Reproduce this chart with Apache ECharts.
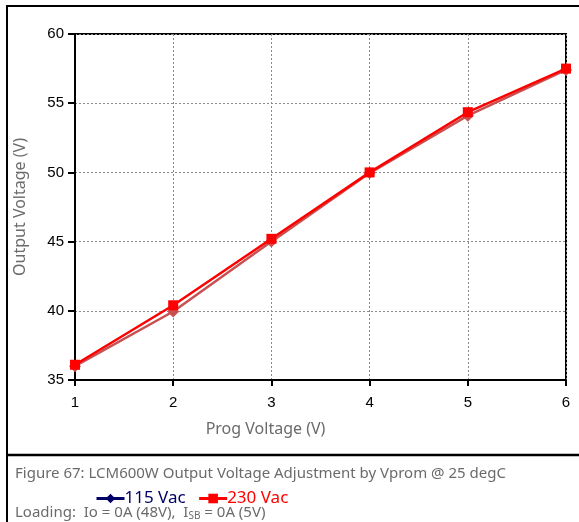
<!DOCTYPE html>
<html>
<head>
<meta charset="utf-8">
<script src="https://cdn.jsdelivr.net/npm/echarts@6/dist/echarts.min.js"></script>
<style>
  html, body { margin: 0; padding: 0; background: #fff; }
  #chart { width: 579px; height: 522px; }
</style>
</head>
<body>
<div id="chart"></div>
<script>
// Programming voltage (V) on the x axis
const progVoltage = [1, 2, 3, 4, 5, 6];
// Output voltage (V) for each input line voltage
const out115 = [36.0, 39.95, 45.0, 49.95, 54.1, 57.4];
const out230 = [36.1, 40.4, 45.2, 50.0, 54.35, 57.5];
const seriesNames = ['115 Vac', '230 Vac'];
const yTicks = [35, 40, 45, 50, 55, 60];

const pairs = (xs, ys) => xs.map((x, i) => [x, ys[i]]);

const chart = echarts.init(document.getElementById('chart'), null, { renderer: 'canvas' });

const thinFont = '"Noto Sans", "DejaVu Sans", sans-serif';
const tickFont = '"Liberation Sans", Arial, sans-serif';
const grey = '#6b6b6b';

chart.setOption({
  backgroundColor: '#ffffff',
  animation: false,
  grid: {
    left: 75, top: 34, right: 13, bottom: 142,
    show: true, borderColor: '#000', borderWidth: 2
  },
  xAxis: {
    type: 'value',
    min: 1, max: 6, interval: 1,
    name: 'Prog Voltage (V)',
    nameLocation: 'middle',
    nameGap: 41,
    nameTextStyle: { fontFamily: thinFont, fontSize: 16, color: grey, padding: [0, 110, 0, 0] },
    axisLine: { lineStyle: { color: '#000', width: 2 } },
    axisTick: { show: true, inside: false, length: 6, lineStyle: { color: '#000', width: 2 } },
    axisLabel: { fontFamily: tickFont, fontSize: 15, color: '#000', margin: 15 },
    splitLine: { show: true, lineStyle: { color: '#8a8a8a', type: [2, 2], width: 1 } }
  },
  yAxis: {
    type: 'value',
    min: yTicks[0], max: yTicks[yTicks.length - 1], interval: 5,
    name: 'Output Voltage (V)',
    nameLocation: 'middle',
    nameGap: 47,
    nameTextStyle: { fontFamily: thinFont, fontSize: 16, color: grey },
    axisLine: { show: true, lineStyle: { color: '#000', width: 2 } },
    axisTick: { show: true, inside: false, length: 7, lineStyle: { color: '#000', width: 2 } },
    axisLabel: { fontFamily: tickFont, fontSize: 15, color: '#000', margin: 11 },
    splitLine: { show: true, lineStyle: { color: '#8a8a8a', type: [2, 2], width: 1 } }
  },
  legend: {
    left: 90, top: 485,
    itemWidth: 28, itemHeight: 12, itemGap: 12,
    data: [
      {
        name: seriesNames[0],
        itemStyle: { color: '#000066' }, lineStyle: { color: '#000066', width: 3 },
        textStyle: { color: '#000066' }
      },
      {
        name: seriesNames[1],
        itemStyle: { color: '#ff0000' }, lineStyle: { color: '#ff0000', width: 3 },
        textStyle: { color: '#ff0000' }
      }
    ],
    textStyle: { fontFamily: thinFont, fontSize: 17, padding: [0, 0, 0, -5] }
  },
  series: [
    {
      name: seriesNames[0], type: 'line',
      data: pairs(progVoltage, out115),
      symbol: 'diamond', symbolSize: 12,
      itemStyle: { color: '#c85050' },
      lineStyle: { color: '#c85050', width: 2.5 },
      z: 2
    },
    {
      name: seriesNames[1], type: 'line',
      data: pairs(progVoltage, out230),
      symbol: 'rect', symbolSize: 10,
      itemStyle: { color: '#ff0000' },
      lineStyle: { color: '#ff0000', width: 2.5 },
      z: 3
    }
  ],
  graphic: [
    // outer frame and caption divider
    { type: 'line', shape: { x1: 6, y1: 6, x2: 579, y2: 6 }, style: { stroke: '#000', lineWidth: 2 } },
    { type: 'line', shape: { x1: 7, y1: 6, x2: 7, y2: 522 }, style: { stroke: '#000', lineWidth: 2 } },
    { type: 'line', shape: { x1: 6, y1: 455, x2: 579, y2: 455 }, style: { stroke: '#000', lineWidth: 2.5 } },
    {
      type: 'text', left: 15, top: 466,
      style: {
        text: 'Figure 67: LCM600W Output Voltage Adjustment by Vprom @ 25 degC',
        font: '15px ' + thinFont, fill: grey
      }
    },
    {
      type: 'text', left: 15, top: 505,
      style: {
        text: '{a|Loading:  Io = 0A (48V),  I}{s|SB}{a| = 0A (5V)}',
        fill: grey,
        rich: {
          a: { fontFamily: thinFont, fontSize: 15, fill: grey, color: grey },
          s: { fontFamily: thinFont, fontSize: 10, fill: grey, color: grey, padding: [8, 0, 0, 0] }
        }
      }
    }
  ]
});
</script>
</body>
</html>
